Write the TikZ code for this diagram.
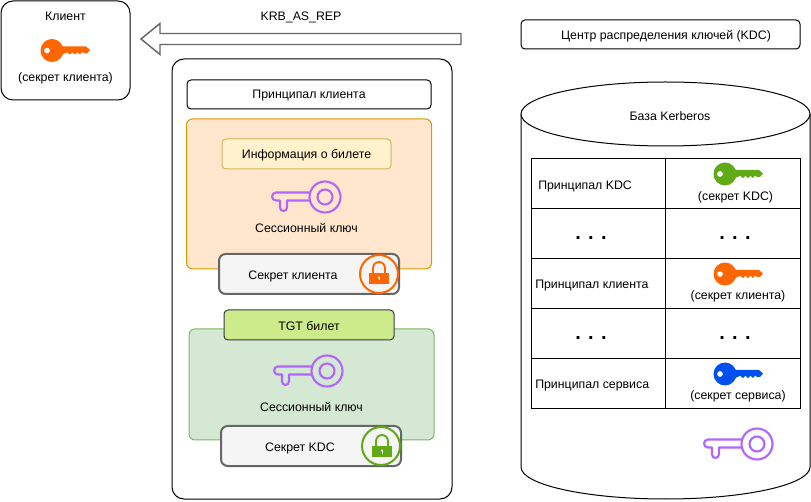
\documentclass[tikz,border=0pt]{standalone}
\usepackage{fontspec}
\setmainfont{Liberation Sans}
\definecolor{cOrange}{HTML}{FF6600}
\definecolor{cGreen}{HTML}{60A917}
\definecolor{cBlue}{HTML}{0050EF}
\definecolor{cPurple}{HTML}{B266FF}
\definecolor{ticketFill}{HTML}{FFE6CC}
\definecolor{ticketLine}{HTML}{D79B00}
\definecolor{infoFill}{HTML}{FFF2CC}
\definecolor{infoLine}{HTML}{D6B656}
\definecolor{secFill}{HTML}{F5F5F5}
\definecolor{secLine}{HTML}{666666}
\definecolor{tgtFill}{HTML}{CDEB8B}
\definecolor{tgtLine}{HTML}{36393D}
\definecolor{greenFill}{HTML}{D5E8D4}
\definecolor{greenLine}{HTML}{82B366}
\tikzset{
  x=0.75pt,y=-0.75pt,
  lbl/.style={font=\fontsize{9.25}{11}\selectfont,text=black,inner sep=0pt,align=center},
  dots/.style={font=\bfseries\fontsize{15}{15}\selectfont,text=black,inner sep=0pt},
  box/.style={draw=black,fill=white,line width=0.75pt,rounded corners=#1},
  box/.default=3pt,
  tbl/.style={draw=black,line width=0.75pt},
  panel/.style n args={2}{draw=#1,fill=#2,line width=0.75pt,rounded corners=4.5pt},
  tag/.style n args={2}{draw=#1,fill=#2,line width=0.75pt,rounded corners=3pt},
  secretbox/.style={draw=secLine,fill=secFill,line width=1.5pt,rounded corners=5pt},
  solidkey/.pic={
    \fill[pic actions,even odd rule] (0,0) circle[radius=11.5] (-5,0) circle[radius=3];
    \fill[pic actions] (6,-4) -- (34,-4) -- (38,-0.5) -- (35,3) -- (32,3) -- (30,1.5) -- (28,4) -- (25.5,1.8) -- (23,4) -- (20.5,1.8) -- (18,4) -- (15,1.8) -- (6,6) -- cycle;
  },
  linekey/.pic={
    \draw[pic actions,line width=1.6pt] (0,0) circle[radius=15.5] (0,0) circle[radius=7.5];
    \draw[pic actions,line width=1.6pt,line join=round]
      (-15,-4.5) -- (-49,-4.5) arc[start angle=270,end angle=90,radius=4] -- (-45,3.5)
      -- (-45,10.5) arc[start angle=180,end angle=0,radius=3.5] -- (-38,3.5) -- (-15,3.5);
  },
  padlock/.pic={
    \fill[pic actions] (-10,-1) rectangle (10,10);
    \draw[pic actions,line width=1.4pt] (-6,-1) -- (-6,-6) arc[start angle=180,end angle=360,radius=6] -- (6,-1);
    \fill[white] (0,3.5) circle[radius=1.2];
    \fill[white] (-0.5,3.5) rectangle (0.5,6.5);
  }
}
\begin{document}
\begin{tikzpicture}
\useasboundingbox (0,0) rectangle (811,502);
\fill[white] (0,0) rectangle (811,502);

% client
\draw[box=9pt] (1,1) rectangle (130,100);
\node[lbl] (clientT) at (65.5,16) {Клиент};
\pic[cOrange] at (52,50.5) {solidkey};
\node[lbl] (clientK) at (65.5,78) {(секрет клиента)};

% arrow
\coordinate (arrowEnd) at (461,39);
\coordinate (arrowTip) at (141,39);
\draw[draw=secLine,fill=white,line width=1.1pt,line join=miter]
  (arrowEnd |- 0,33.5) -- (160,33.5) -- (160,23.5) -- (arrowTip) -- (160,54.5) -- (160,44.5) -- (arrowEnd |- 0,44.5) -- cycle;
\node[lbl] (rep) at (301,17) {KRB\_AS\_REP};

% message
\draw[box=9pt] (172,59) rectangle (452,499);
\draw[box] (187,80) rectangle (431,109);
\node[lbl] (cp) at (309,96) {Принципал клиента};

\draw[panel={ticketLine}{ticketFill}] (186.5,119) rectangle (431.5,269);
\draw[tag={infoLine}{infoFill}] (222,139) rectangle (391,169);
\node[lbl] (info) at (306.5,155) {Информация о билете};
\pic[cPurple] at (325,197) {linekey};
\node[lbl] (sk1) at (306.5,227.5) {Сессионный ключ};

\draw[secretbox] (219,254) rectangle (399,294);
\node[lbl] (sc) at (293,276) {Секрет клиента};
\draw[cOrange,line width=1.5pt] (379,274) circle[radius=19];
\pic[cOrange] at (379,274) {padlock};

\draw[panel={greenLine}{greenFill}] (189,329) rectangle (434,440);
\draw[tag={tgtLine}{tgtFill}] (224,310) rectangle (394,340);
\node[lbl] (tgt) at (309,326.5) {TGT билет};
\pic[cPurple] at (327,371) {linekey};
\node[lbl] (sk2) at (311.5,406.5) {Сессионный ключ};

\draw[secretbox] (221,426) rectangle (401,466);
\node[lbl] (sd) at (300,448) {Секрет KDC};
\draw[cGreen,line width=1.5pt] (381,446) circle[radius=19];
\pic[cGreen] at (382,447) {padlock};

% KDC
\draw[box] (521,20) rectangle (800,49);
\node[lbl] (kdc) at (666,36.5) {Центр распределения ключей (KDC)};

\draw[line width=0.75pt,fill=white] (521,114) -- (521,467) arc[start angle=180,end angle=0,x radius=144.5,y radius=32] -- (810,114);
\draw[line width=0.75pt,fill=white] (665.5,114) ellipse[x radius=144.5,y radius=32];
\node[lbl] (db) at (670,116) {База Kerberos};

\foreach \yy in {159,209,259,309,359}
  \draw[tbl] (531,\yy) rectangle (665,\yy+50) (665,\yy) rectangle (800,\yy+50);

\node[lbl,anchor=west] (r1) at (538,186) {Принципал KDC};
\pic[cGreen] at (725,174) {solidkey};
\node[lbl] (s1) at (735.5,197.5) {(секрет KDC)};
\node[dots] (d1) at (591,238) {. . .};
\node[dots] (d2) at (735,238) {. . .};
\node[lbl,anchor=west] (r3) at (535,286) {Принципал клиента};
\pic[cOrange] at (725,274) {solidkey};
\node[lbl] (s3) at (738,296) {(секрет клиента)};
\node[dots] (d3) at (591,338) {. . .};
\node[dots] (d4) at (735,338) {. . .};
\node[lbl,anchor=west] (r5) at (535,386) {Принципал сервиса};
\pic[cBlue] at (725,374) {solidkey};
\node[lbl] (s5) at (738,396) {(секрет сервиса)};

\pic[cPurple] at (757,444) {linekey};
\end{tikzpicture}
\end{document}
